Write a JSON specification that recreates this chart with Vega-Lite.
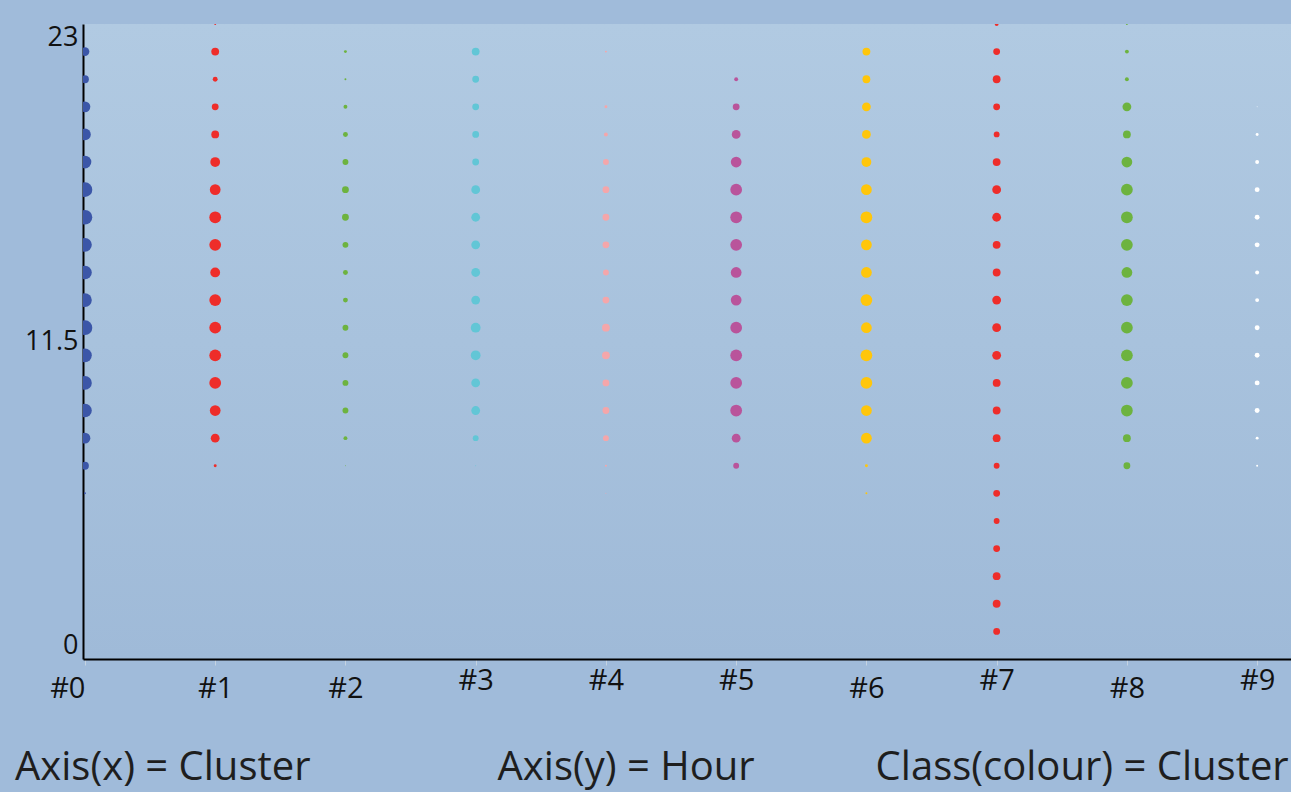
{
  "$schema": "https://vega.github.io/schema/vega-lite/v6.json",
  "width": 1208,
  "height": 635,
  "autosize": {"type": "none"},
  "padding": {"left": 83, "top": 24, "right": 0, "bottom": 133},
  "background": "#a0bbda",
  "config": {
    "font": "Open Sans",
    "view": {
      "stroke": null,
      "fill": {"gradient": "linear", "x1": 0, "y1": 0, "x2": 0, "y2": 1, "stops": [{"offset": 0, "color": "#b1cae2"}, {"offset": 1, "color": "#9fbad8"}]}
    }
  },
  "title": {
    "text": "Axis(x) = Cluster\u00a0\u00a0\u00a0\u00a0\u00a0\u00a0\u00a0\u00a0\u00a0\u00a0\u00a0\u00a0\u00a0\u00a0\u00a0\u00a0\u00a0\u00a0Axis(y) = Hour\u00a0\u00a0\u00a0\u00a0\u00a0\u00a0\u00a0\u00a0\u00a0\u00a0\u00a0\u2009Class(colour) = Cluster",
    "orient": "bottom",
    "anchor": "start",
    "frame": "group",
    "dx": -68,
    "offset": 45,
    "fontSize": 40,
    "fontWeight": "normal",
    "font": "Open Sans",
    "color": "#1e1e1e"
  },
  "data": {"values": [
    {"cluster":0,"hour":22,"d":9},{"cluster":0,"hour":21,"d":8},{"cluster":0,"hour":20,"d":11},{"cluster":0,"hour":19,"d":12},{"cluster":0,"hour":18,"d":13},{"cluster":0,"hour":17,"d":15},{"cluster":0,"hour":16,"d":15},{"cluster":0,"hour":15,"d":14},{"cluster":0,"hour":14,"d":14},{"cluster":0,"hour":13,"d":14},{"cluster":0,"hour":12,"d":15},{"cluster":0,"hour":11,"d":14},{"cluster":0,"hour":10,"d":14},{"cluster":0,"hour":9,"d":14},{"cluster":0,"hour":8,"d":11},{"cluster":0,"hour":7,"d":8},{"cluster":0,"hour":6,"d":2},
    {"cluster":1,"hour":23,"d":2},{"cluster":1,"hour":22,"d":8},{"cluster":1,"hour":21,"d":5},{"cluster":1,"hour":20,"d":7},{"cluster":1,"hour":19,"d":8},{"cluster":1,"hour":18,"d":10},{"cluster":1,"hour":17,"d":11},{"cluster":1,"hour":16,"d":12},{"cluster":1,"hour":15,"d":12},{"cluster":1,"hour":14,"d":10},{"cluster":1,"hour":13,"d":12},{"cluster":1,"hour":12,"d":12},{"cluster":1,"hour":11,"d":12},{"cluster":1,"hour":10,"d":12},{"cluster":1,"hour":9,"d":11},{"cluster":1,"hour":8,"d":9},{"cluster":1,"hour":7,"d":3},
    {"cluster":2,"hour":22,"d":3},{"cluster":2,"hour":21,"d":2},{"cluster":2,"hour":20,"d":4},{"cluster":2,"hour":19,"d":5},{"cluster":2,"hour":18,"d":6},{"cluster":2,"hour":17,"d":7},{"cluster":2,"hour":16,"d":7},{"cluster":2,"hour":15,"d":6},{"cluster":2,"hour":14,"d":5},{"cluster":2,"hour":13,"d":5},{"cluster":2,"hour":12,"d":6},{"cluster":2,"hour":11,"d":6},{"cluster":2,"hour":10,"d":6},{"cluster":2,"hour":9,"d":6},{"cluster":2,"hour":8,"d":4},{"cluster":2,"hour":7,"d":1},
    {"cluster":3,"hour":22,"d":8},{"cluster":3,"hour":21,"d":7},{"cluster":3,"hour":20,"d":7},{"cluster":3,"hour":19,"d":7},{"cluster":3,"hour":18,"d":7},{"cluster":3,"hour":17,"d":9},{"cluster":3,"hour":16,"d":9},{"cluster":3,"hour":15,"d":9},{"cluster":3,"hour":14,"d":9},{"cluster":3,"hour":13,"d":9},{"cluster":3,"hour":12,"d":10},{"cluster":3,"hour":11,"d":10},{"cluster":3,"hour":10,"d":9},{"cluster":3,"hour":9,"d":9},{"cluster":3,"hour":8,"d":6},{"cluster":3,"hour":7,"d":1},
    {"cluster":4,"hour":22,"d":2},{"cluster":4,"hour":20,"d":3},{"cluster":4,"hour":19,"d":4},{"cluster":4,"hour":18,"d":6},{"cluster":4,"hour":17,"d":7},{"cluster":4,"hour":16,"d":7},{"cluster":4,"hour":15,"d":7},{"cluster":4,"hour":14,"d":6},{"cluster":4,"hour":13,"d":7},{"cluster":4,"hour":12,"d":8},{"cluster":4,"hour":11,"d":8},{"cluster":4,"hour":10,"d":7},{"cluster":4,"hour":9,"d":7},{"cluster":4,"hour":8,"d":6},{"cluster":4,"hour":7,"d":2},{"cluster":4,"hour":6,"d":1},
    {"cluster":5,"hour":21,"d":4},{"cluster":5,"hour":20,"d":7},{"cluster":5,"hour":19,"d":9},{"cluster":5,"hour":18,"d":11},{"cluster":5,"hour":17,"d":12},{"cluster":5,"hour":16,"d":12},{"cluster":5,"hour":15,"d":12},{"cluster":5,"hour":14,"d":11},{"cluster":5,"hour":13,"d":11},{"cluster":5,"hour":12,"d":12},{"cluster":5,"hour":11,"d":12},{"cluster":5,"hour":10,"d":12},{"cluster":5,"hour":9,"d":12},{"cluster":5,"hour":8,"d":9},{"cluster":5,"hour":7,"d":6},
    {"cluster":6,"hour":22,"d":8},{"cluster":6,"hour":21,"d":8},{"cluster":6,"hour":20,"d":9},{"cluster":6,"hour":19,"d":9},{"cluster":6,"hour":18,"d":10},{"cluster":6,"hour":17,"d":11},{"cluster":6,"hour":16,"d":12},{"cluster":6,"hour":15,"d":11},{"cluster":6,"hour":14,"d":11},{"cluster":6,"hour":13,"d":12},{"cluster":6,"hour":12,"d":11},{"cluster":6,"hour":11,"d":12},{"cluster":6,"hour":10,"d":12},{"cluster":6,"hour":9,"d":11},{"cluster":6,"hour":8,"d":11},{"cluster":6,"hour":7,"d":3},{"cluster":6,"hour":6,"d":2},
    {"cluster":7,"hour":23,"d":4},{"cluster":7,"hour":22,"d":7},{"cluster":7,"hour":21,"d":8},{"cluster":7,"hour":20,"d":7},{"cluster":7,"hour":19,"d":6},{"cluster":7,"hour":18,"d":8},{"cluster":7,"hour":17,"d":9},{"cluster":7,"hour":16,"d":9},{"cluster":7,"hour":15,"d":8},{"cluster":7,"hour":14,"d":8},{"cluster":7,"hour":13,"d":9},{"cluster":7,"hour":12,"d":9},{"cluster":7,"hour":11,"d":9},{"cluster":7,"hour":10,"d":8},{"cluster":7,"hour":9,"d":8},{"cluster":7,"hour":8,"d":8},{"cluster":7,"hour":7,"d":6},{"cluster":7,"hour":6,"d":7},{"cluster":7,"hour":5,"d":6},{"cluster":7,"hour":4,"d":7},{"cluster":7,"hour":3,"d":8},{"cluster":7,"hour":2,"d":8},{"cluster":7,"hour":1,"d":7},
    {"cluster":8,"hour":23,"d":2},{"cluster":8,"hour":22,"d":4},{"cluster":8,"hour":21,"d":4},{"cluster":8,"hour":20,"d":9},{"cluster":8,"hour":19,"d":8},{"cluster":8,"hour":18,"d":11},{"cluster":8,"hour":17,"d":12},{"cluster":8,"hour":16,"d":12},{"cluster":8,"hour":15,"d":12},{"cluster":8,"hour":14,"d":11},{"cluster":8,"hour":13,"d":12},{"cluster":8,"hour":12,"d":12},{"cluster":8,"hour":11,"d":12},{"cluster":8,"hour":10,"d":12},{"cluster":8,"hour":9,"d":12},{"cluster":8,"hour":8,"d":8},{"cluster":8,"hour":7,"d":7},
    {"cluster":9,"hour":20,"d":1},{"cluster":9,"hour":19,"d":3},{"cluster":9,"hour":18,"d":4},{"cluster":9,"hour":17,"d":5},{"cluster":9,"hour":16,"d":5},{"cluster":9,"hour":15,"d":5},{"cluster":9,"hour":14,"d":4},{"cluster":9,"hour":13,"d":4},{"cluster":9,"hour":12,"d":5},{"cluster":9,"hour":11,"d":5},{"cluster":9,"hour":10,"d":5},{"cluster":9,"hour":9,"d":5},{"cluster":9,"hour":8,"d":3},{"cluster":9,"hour":7,"d":2}
  ]},
  "mark": {"type": "point", "filled": true, "opacity": 1, "clip": true, "strokeWidth": 0},
  "encoding": {
    "x": {
      "field": "cluster", "type": "quantitative",
      "scale": {"domain": [-0.015, 9.26], "nice": false, "zero": false},
      "axis": {
        "values": [0, 1, 2, 3, 4, 5, 6, 7, 8, 9],
        "labelExpr": "'#' + datum.value",
        "title": null, "grid": false,
        "domainColor": "#000000", "domainWidth": 2,
        "ticks": true, "tickColor": "#c5d3e2", "tickSize": 6, "tickWidth": 1,
        "labelFont": "Open Sans",
        "labelFontSize": 29, "labelColor": "#111111", "labelFlush": false, "labelOverlap": false,
        "labelAlign": {"condition": {"test": "datum.value === 0", "value": "right"}, "value": "center"},
        "labelPadding": {"condition": {"test": "indexof([3,4,5,7,9], datum.value) >= 0", "value": 1}, "value": 9}
      }
    },
    "y": {
      "field": "hour", "type": "quantitative",
      "scale": {"domain": [0, 23], "nice": false, "zero": true},
      "axis": {
        "values": [0, 11.5, 23],
        "labelExpr": "'' + datum.value",
        "title": null, "grid": false, "ticks": false,
        "domainColor": "#000000", "domainWidth": 2,
        "labelFlush": true, "labelFontSize": 27, "labelColor": "#111111", "labelPadding": 5, "labelFont": "Open Sans"
      }
    },
    "color": {
      "field": "cluster", "type": "nominal",
      "scale": {"domain": [0, 1, 2, 3, 4, 5, 6, 7, 8, 9], "range": ["#3b56a8", "#ee2d2a", "#6db33f", "#62c6d6", "#f4a6aa", "#b9549b", "#ffc60b", "#ee2d2a", "#6db33f", "#ffffff"]},
      "legend": null
    },
    "size": {
      "field": "d", "type": "quantitative",
      "scale": {"type": "pow", "exponent": 2, "domain": [0, 15], "range": [0, 215]},
      "legend": null
    }
  }
}
